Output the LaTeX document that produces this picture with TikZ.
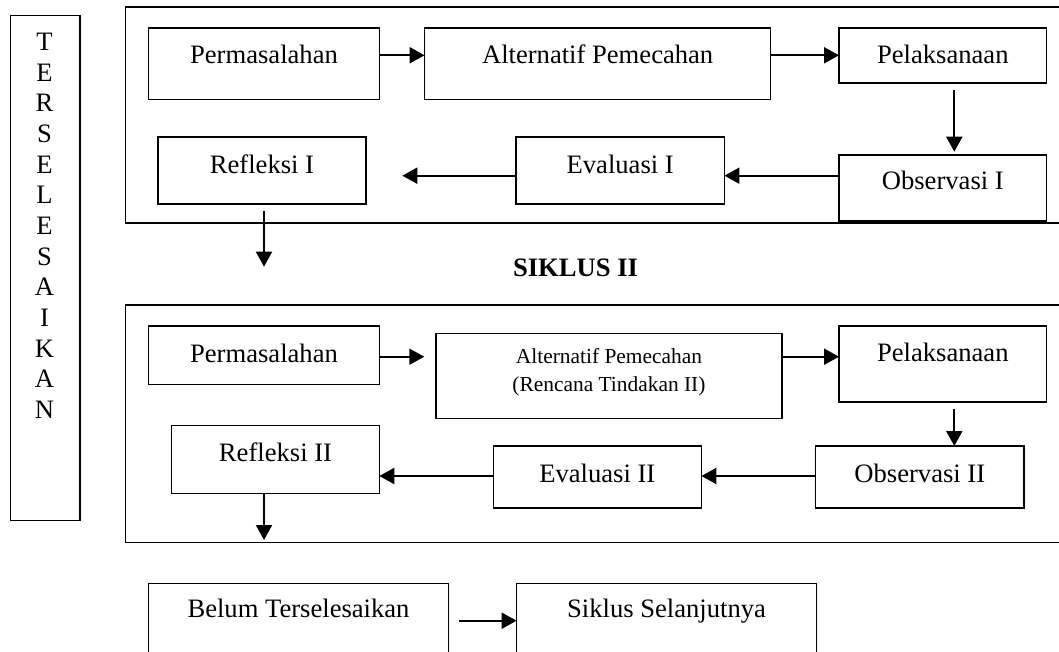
\documentclass[tikz,border=0pt]{standalone}
\usepackage{fontspec}
\setmainfont{Liberation Serif}
\usetikzlibrary{arrows.meta}
\newcommand\mkbox[7]{%
  \node[boxst, minimum width={(#4)-(#2)}, minimum height={(#5)-(#3)}] (#1) at ({((#2)+(#4))/2},{((#3)+(#5))/2}) {};
  \node[txt] (#1t) at ({((#2)+(#4))/2},#6) {#7};}
\newcommand\mkframe[5]{%
  \node[boxst, line width=1.3pt, minimum width={(#4)-(#2)}, minimum height={(#5)-(#3)}] (#1) at ({((#2)+(#4))/2},{((#3)+(#5))/2}) {};}
\begin{document}
\begin{tikzpicture}[x=1pt,y=-1pt,
  boxst/.style={draw, line width=1.5pt, rectangle, inner sep=0pt, outer sep=0pt},
  txt/.style={anchor=base, inner sep=0pt, font=\fontsize{26.6}{30}\selectfont},
  arr/.style={line width=2pt, -{Triangle[length=15pt,width=16pt]}}]
\useasboundingbox (0,0) rectangle (1059,652);
\clip (0,0) rectangle (1059,652);
% left vertical box
\mkframe{left}{10.5}{15.3}{80.1}{520.7}
\foreach \l [count=\i from 0] in {T,E,R,S,E,L,E,S,A,I,K,A,N}
  \node[txt] (ltr\i) at (44.6,{50.7+30.63*\i}) {\l};
% frames
\mkframe{frame1}{125.8}{7}{1080}{223}
\mkframe{frame2}{125.8}{305}{1080}{542.3}
% cycle I
\mkbox{perm1}{148.7}{28}{379.3}{99.3}{63.3}{Permasalahan}
\mkbox{alt1}{424.6}{28}{770.7}{99.3}{63.3}{Alternatif Pemecahan}
\mkbox{pel1}{839}{28}{1046.6}{83}{63.3}{Pelaksanaan}
\mkbox{obs1}{839}{155}{1046.6}{221}{190}{Observasi I}
\mkbox{eval1}{516}{137}{724.4}{204}{173.3}{Evaluasi I}
\mkbox{refl1}{157.9}{137}{366.1}{204}{173.3}{Refleksi I}
\coordinate (c1) at (264,266.7);
\draw[arr] (perm1.east |- 0,55.3) -- (alt1.west |- 0,55.3);
\draw[arr] (alt1.east |- 0,55.3) -- (pel1.west |- 0,55.3);
\draw[arr, shorten <=7pt, shorten >=3.3pt] (pel1.south -| 954.3,0) -- (obs1.north -| 954.3,0);
\draw[arr] (obs1.west |- 0,175.7) -- (eval1.east |- 0,175.7);
\draw[arr, shorten >=36.2pt] (eval1.west |- 0,175.7) -- (refl1.east |- 0,175.7);
\draw[arr, shorten <=6.7pt] (refl1.south -| c1) -- (c1);
% title
\node[txt, font=\fontsize{26.6}{30}\selectfont\bfseries] (title) at (575.5,276.7) {SIKLUS II};
% cycle II
\mkbox{perm2}{148.7}{326}{379.3}{384.3}{362}{Permasalahan}
\node[boxst, minimum width={781.8-436.1}, minimum height={418.3-333.3}] (alt2) at ({(436.1+781.8)/2},{(333.3+418.3)/2}) {};
\node[txt, font=\fontsize{21.4}{26}\selectfont] (alt2a) at (alt2 |- 0,363.3) {Alternatif Pemecahan};
\node[txt, font=\fontsize{21.4}{26}\selectfont] (alt2b) at (alt2 |- 0,391.7) {(Rencana Tindakan II)};
\mkbox{pel2}{839}{326}{1046.6}{402}{361}{Pelaksanaan}
\mkbox{obs2}{815.7}{446}{1023.9}{508}{482}{Observasi II}
\mkbox{eval2}{493.3}{446}{701.4}{508}{482}{Evaluasi II}
\mkbox{refl2}{171.7}{425.3}{379.3}{493.3}{461}{Refleksi II}
\coordinate (c2) at (264,540);
\draw[arr, shorten >=11.8pt] (perm2.east |- 0,356.7) -- (alt2.west |- 0,356.7);
\draw[arr] (alt2.east |- 0,356.7) -- (pel2.west |- 0,356.7);
\draw[arr, shorten <=7.3pt] (pel2.south -| 954.3,0) -- (obs2.north -| 954.3,0);
\draw[arr] (obs2.west |- 0,476) -- (eval2.east |- 0,476);
\draw[arr] (eval2.west |- 0,476) -- (refl2.east |- 0,476);
\draw[arr] (refl2.south -| c2) -- (c2);
% bottom
\mkbox{belum}{148.7}{583.3}{448.3}{680}{617}{Belum Terselesaikan}
\mkbox{next}{516.6}{583.3}{816.4}{680}{617}{Siklus Selanjutnya}
\draw[arr, shorten <=10.5pt] (belum.east |- 0,620.7) -- (next.west |- 0,620.7);
\end{tikzpicture}
\end{document}
